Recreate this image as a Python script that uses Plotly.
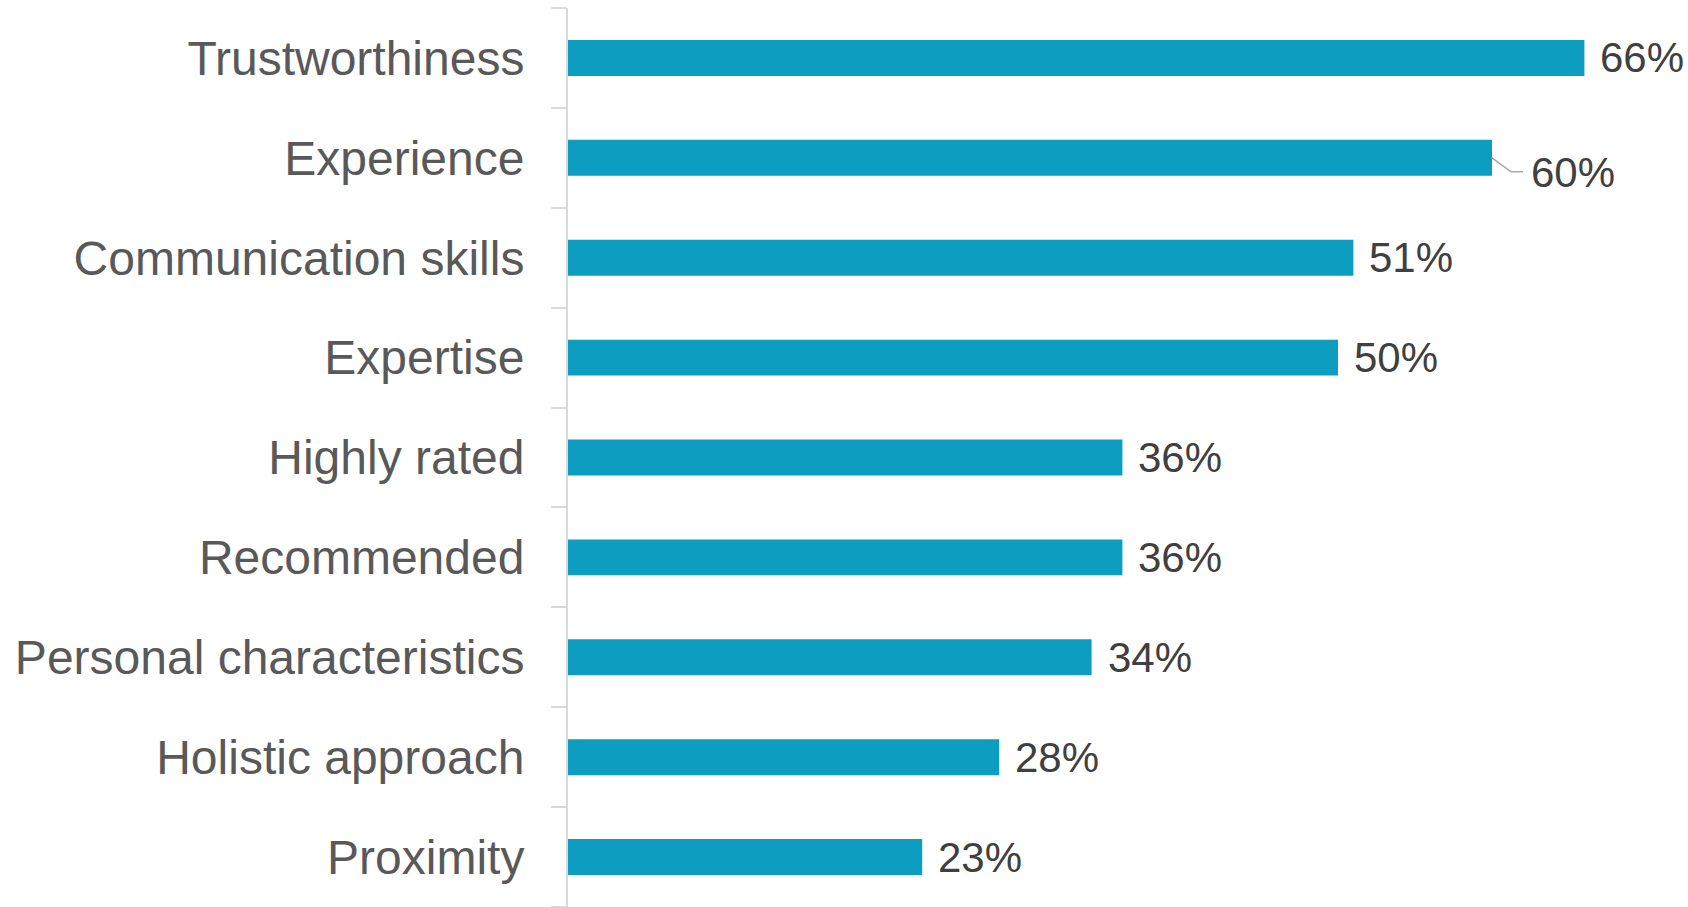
import plotly.graph_objects as go

# Survey results: share of respondents naming each factor
categories = [
    "Trustworthiness",
    "Experience",
    "Communication skills",
    "Expertise",
    "Highly rated",
    "Recommended",
    "Personal characteristics",
    "Holistic approach",
    "Proximity",
]
values = [66, 60, 51, 50, 36, 36, 34, 28, 23]
value_labels = [f"{v}%" for v in values]

BAR_COLOR = "#0C9DC0"
AXIS_GREY = "#D9D9D9"
CAT_TEXT = "#595959"
VAL_TEXT = "#404040"
FONT = "Liberation Sans, Arial, sans-serif"

fig = go.Figure(
    go.Bar(
        x=values,
        y=categories,
        orientation="h",
        marker=dict(color=BAR_COLOR, line=dict(width=0)),
        hoverinfo="skip",
    )
)

# Value labels to the right of each bar; the "Experience" label is nudged
# down with a small leader line
for cat, v, lab in zip(categories, values, value_labels):
    if cat == "Experience":
        fig.add_annotation(
            x=v, y=cat, xref="x", yref="y", text=lab, showarrow=False,
            xanchor="left", yanchor="middle", xshift=37, yshift=-15,
            font=dict(family=FONT, size=42, color=VAL_TEXT),
        )
        fig.add_shape(
            type="path", xref="x", yref="y",
            xsizemode="pixel", ysizemode="pixel",
            xanchor=v, yanchor=cat,
            path="M 0 0 L 19 -14 L 31 -14",
            line=dict(color="#A6A6A6", width=1.5),
        )
    else:
        fig.add_annotation(
            x=v, y=cat, xref="x", yref="y", text=lab, showarrow=False,
            xanchor="left", yanchor="middle", xshift=14,
            font=dict(family=FONT, size=42, color=VAL_TEXT),
        )

fig.update_layout(
    width=1688,
    height=907,
    margin=dict(l=568, r=42, t=8, b=0, autoexpand=False),
    paper_bgcolor="white",
    plot_bgcolor="white",
    bargap=0.64,
    showlegend=False,
    font=dict(family=FONT),
)
fig.update_xaxes(
    range=[0, 70], visible=False, showgrid=False, zeroline=False,
    automargin=False,
)
fig.update_yaxes(
    type="category",
    categoryorder="array",
    categoryarray=categories[::-1],
    automargin=False,
    showline=True, linecolor=AXIS_GREY, linewidth=2,
    ticks="outside", tickson="boundaries", ticklen=15,
    tickcolor=AXIS_GREY, tickwidth=2,
    ticklabelstandoff=32,
    tickfont=dict(family=FONT, size=48, color=CAT_TEXT),
    showgrid=False, zeroline=False,
)

fig.write_html("out.html")
